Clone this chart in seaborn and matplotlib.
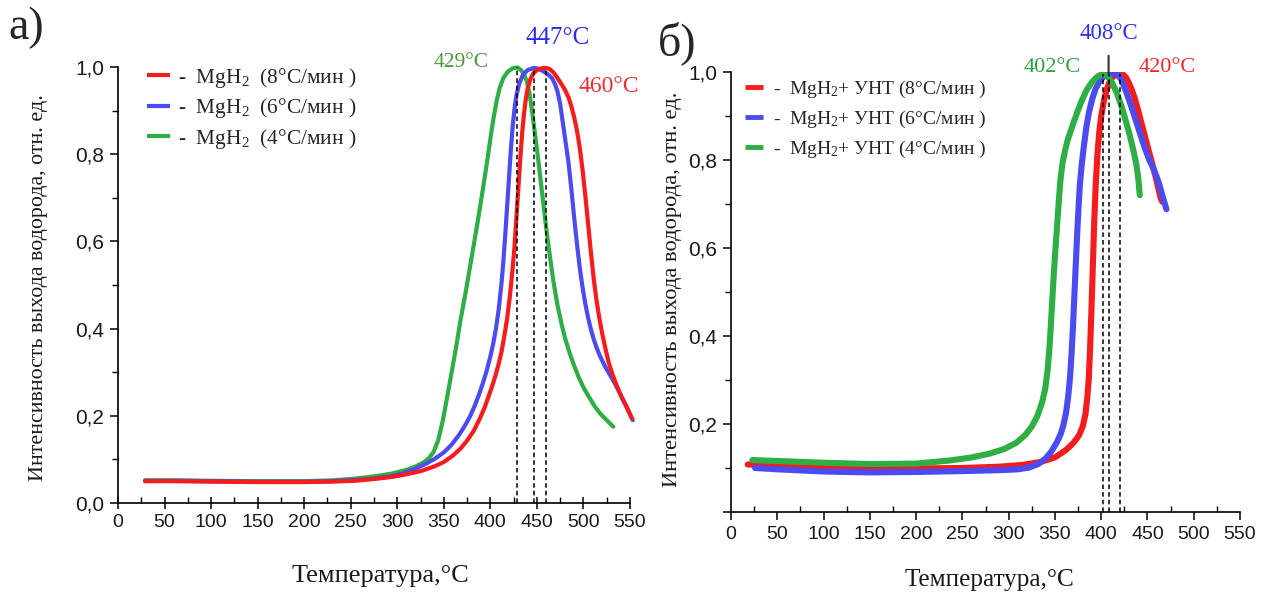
import numpy as np
import pandas as pd
import matplotlib
matplotlib.use("Agg")
import matplotlib.pyplot as plt
import seaborn as sns
from matplotlib.lines import Line2D
from matplotlib.ticker import MultipleLocator, FuncFormatter

# ---------------- Panel а: MgH2 ----------------
t_a8 = [29, 60, 100, 150, 200, 230, 255, 275, 295, 310, 325, 340, 350, 360, 368, 375, 382,
        389, 394, 399, 403, 406, 409, 412, 415, 418, 421, 424, 426, 428, 430, 432, 434, 436,
        438, 440, 443, 446, 450, 455, 460, 464, 468, 472, 476, 480, 484, 487, 490, 493, 496,
        499, 502, 505, 508, 511, 514, 517, 520, 523, 527, 531, 536, 541, 546, 552]
v_a8 = [0.050, 0.050, 0.049, 0.048, 0.048, 0.049, 0.051, 0.055, 0.060, 0.066, 0.073, 0.084,
        0.094, 0.109, 0.125, 0.143, 0.165, 0.195, 0.220, 0.250, 0.275, 0.296, 0.320, 0.347,
        0.383, 0.423, 0.475, 0.540, 0.590, 0.655, 0.720, 0.785, 0.845, 0.890, 0.925, 0.950,
        0.972, 0.985, 0.993, 0.997, 0.998, 0.995, 0.987, 0.975, 0.962, 0.948, 0.930, 0.910,
        0.885, 0.855, 0.815, 0.765, 0.705, 0.640, 0.575, 0.515, 0.465, 0.425, 0.390, 0.360,
        0.323, 0.296, 0.268, 0.243, 0.222, 0.194]

t_a6 = [29, 60, 100, 150, 200, 230, 255, 275, 290, 305, 318, 330, 340, 350, 358, 366, 372,
        378, 383, 388, 392, 396, 400, 403, 406, 409, 412, 414, 416, 418, 420, 422, 424, 426,
        428, 431, 435, 440, 447, 452, 457, 462, 466, 469, 472, 475, 478, 481, 484, 487, 490,
        493, 496, 499, 502, 505, 508, 511, 514, 517, 520, 523, 527, 531, 536, 541, 546, 553]
v_a6 = [0.051, 0.051, 0.050, 0.049, 0.049, 0.050, 0.053, 0.056, 0.060, 0.067, 0.077, 0.089,
        0.101, 0.116, 0.133, 0.155, 0.175, 0.198, 0.222, 0.250, 0.275, 0.303, 0.336, 0.365,
        0.400, 0.445, 0.505, 0.555, 0.615, 0.680, 0.745, 0.810, 0.865, 0.905, 0.935, 0.962,
        0.982, 0.993, 0.998, 0.996, 0.990, 0.983, 0.975, 0.963, 0.945, 0.915, 0.870, 0.825,
        0.780, 0.720, 0.655, 0.595, 0.540, 0.495, 0.457, 0.425, 0.398, 0.376, 0.357, 0.341,
        0.327, 0.314, 0.299, 0.285, 0.265, 0.243, 0.222, 0.190]

t_a4 = [29, 60, 100, 150, 200, 230, 255, 275, 293, 310, 320, 328, 334, 339, 344, 349, 353,
        358, 363, 368, 374, 380, 386, 392, 397, 401, 404, 407, 410, 414, 419, 424, 429, 433,
        436, 439, 442, 445, 448, 451, 454, 457, 460, 464, 468, 472, 476, 480, 485, 490, 495,
        500, 506, 512, 518, 525, 532]
v_a4 = [0.052, 0.052, 0.051, 0.050, 0.050, 0.052, 0.056, 0.061, 0.067, 0.076, 0.084, 0.093,
        0.103, 0.117, 0.144, 0.190, 0.236, 0.295, 0.355, 0.420, 0.490, 0.565, 0.640, 0.720,
        0.790, 0.850, 0.890, 0.925, 0.952, 0.975, 0.990, 0.997, 0.999, 0.993, 0.984, 0.968,
        0.940, 0.895, 0.845, 0.795, 0.740, 0.685, 0.630, 0.565, 0.505, 0.455, 0.415, 0.380,
        0.345, 0.315, 0.288, 0.265, 0.243, 0.222, 0.205, 0.190, 0.175]

peaks_a = [460, 447, 429]

# ---------------- Panel б: MgH2 + УНТ ----------------
t_b8 = [18, 40, 70, 100, 150, 200, 250, 290, 315, 335, 350, 362, 370, 376, 380, 383, 385,
        386.5, 388, 389.5, 391, 392.5, 394, 396, 398, 400, 403, 406, 409, 412, 416, 420, 424,
        427, 430, 433, 436, 440, 445, 450, 455, 460, 464, 466]
v_b8 = [0.108, 0.106, 0.104, 0.102, 0.099, 0.099, 0.100, 0.103, 0.107, 0.114, 0.124, 0.141,
        0.157, 0.174, 0.194, 0.222, 0.260, 0.300, 0.370, 0.460, 0.560, 0.660, 0.740, 0.815,
        0.865, 0.900, 0.935, 0.960, 0.977, 0.988, 0.994, 0.996, 0.994, 0.987, 0.975, 0.960,
        0.942, 0.912, 0.872, 0.832, 0.793, 0.752, 0.715, 0.705]

t_b6 = [26, 50, 100, 150, 200, 250, 290, 310, 322, 332, 340, 346, 352, 356, 359, 362, 364.5,
        366.5, 368, 369.5, 371, 372.5, 374, 375.5, 377, 379, 381.5, 384, 387, 390.5, 394, 398,
        402, 406, 410, 414, 418, 422, 427, 432, 437, 442, 447, 452, 457, 462, 466, 470.5]
v_b6 = [0.100, 0.097, 0.092, 0.090, 0.091, 0.093, 0.095, 0.097, 0.101, 0.109, 0.122, 0.137,
        0.158, 0.176, 0.196, 0.225, 0.265, 0.310, 0.360, 0.420, 0.490, 0.560, 0.630, 0.690,
        0.745, 0.790, 0.835, 0.875, 0.910, 0.940, 0.962, 0.978, 0.988, 0.994, 0.997, 0.997,
        0.994, 0.982, 0.955, 0.925, 0.893, 0.860, 0.828, 0.800, 0.778, 0.750, 0.720, 0.688]

t_b4 = [23, 50, 100, 150, 200, 236, 260, 280, 295, 308, 318, 325, 331, 336, 339.5, 342, 344,
        345.5, 347, 348.5, 350, 351.5, 353, 354.5, 356, 358, 361, 364, 368, 373, 378, 384, 390,
        396, 402, 407, 412, 417, 422, 427, 431, 435, 438, 440, 441.7]
v_b4 = [0.118, 0.116, 0.112, 0.109, 0.110, 0.117, 0.124, 0.133, 0.143, 0.157, 0.175, 0.194,
        0.218, 0.248, 0.280, 0.320, 0.370, 0.420, 0.475, 0.530, 0.580, 0.625, 0.670, 0.715,
        0.755, 0.790, 0.822, 0.847, 0.872, 0.902, 0.930, 0.958, 0.977, 0.990, 0.996, 0.990,
        0.975, 0.952, 0.922, 0.886, 0.855, 0.820, 0.790, 0.760, 0.720]

peaks_b = [420, 408, 402]

rates = ["8", "6", "4"]
line_colors = ["#f41c1c", "#4b4bf0", "#2fae45"]
label_colors_a = ["#e83030", "#2a2af0", "#4c9a3c"]
label_colors_b = ["#f02828", "#3030f0", "#2ca53c"]

labels_a = [f"-  MgH$_2$  ({r}°C/мин )" for r in rates]
labels_b = [f"-  MgH$_2$+ УНТ ({r}°C/мин )" for r in rates]


def frame(ts, vs):
    parts = []
    for r, t, v in zip(rates, ts, vs):
        parts.append(pd.DataFrame({"T": t, "I": v, "rate": r}))
    return pd.concat(parts, ignore_index=True)


df_a = frame([t_a8, t_a6, t_a4], [v_a8, v_a6, v_a4])
df_b = frame([t_b8, t_b6, t_b4], [v_b8, v_b6, v_b4])

sns.set_theme(style="ticks")
plt.rcParams["font.family"] = ["Liberation Sans", "DejaVu Sans"]
plt.rcParams["mathtext.fontset"] = "custom"
plt.rcParams["mathtext.rm"] = "Liberation Serif"
plt.rcParams["mathtext.it"] = "Liberation Serif:italic"
plt.rcParams["mathtext.bf"] = "Liberation Serif:bold"
plt.rcParams["lines.solid_capstyle"] = "round"
plt.rcParams["lines.solid_joinstyle"] = "round"
SERIF = ["Liberation Serif", "DejaVu Serif"]

fig = plt.figure(figsize=(12.7, 5.95), dpi=100)
ax_a = fig.add_axes([118 / 1270, 1 - 503 / 595, 512 / 1270, 436 / 595])
ax_b = fig.add_axes([731 / 1270, 1 - 512 / 595, 509 / 1270, 440 / 595])

palette = dict(zip(rates, line_colors))
# the 8 °C/min curve lies on top in panel а, the 4 °C/min curve on top in panel б
sns.lineplot(data=df_a, x="T", y="I", hue="rate", hue_order=rates[::-1], palette=palette,
             estimator=None, linewidth=3.0, legend=False, ax=ax_a)
sns.lineplot(data=df_b, x="T", y="I", hue="rate", hue_order=rates, palette=palette,
             estimator=None, linewidth=4.4, legend=False, ax=ax_b)
for ln in ax_a.get_lines():
    ln.set_clip_on(False)

comma = FuncFormatter(lambda v, p: f"{v:.1f}".replace(".", ","))
comma_no_zero = FuncFormatter(lambda v, p: "" if abs(v) < 1e-9 else f"{v:.1f}".replace(".", ","))

for ax in (ax_a, ax_b):
    ax.set_xlim(0, 550)
    ax.set_ylim(0, 1.0)
    ax.xaxis.set_major_locator(MultipleLocator(50))
    ax.xaxis.set_minor_locator(MultipleLocator(25))
    ax.yaxis.set_major_locator(MultipleLocator(0.2))
    ax.yaxis.set_minor_locator(MultipleLocator(0.1))
    for s in ("top", "right"):
        ax.spines[s].set_visible(False)
    for s in ("left", "bottom"):
        ax.spines[s].set_linewidth(1.2)
        ax.spines[s].set_color("black")
    ax.tick_params(axis="both", which="major", length=6, width=1.1,
                   colors="black", labelcolor="#1a1a1a", pad=4)
    ax.tick_params(axis="x", which="major", labelsize=14)
    ax.tick_params(axis="y", which="major", labelsize=15)
    ax.tick_params(axis="both", which="minor", length=4, width=1.0, colors="black")
    ax.tick_params(axis="y", which="both", direction="out")
    ax.tick_params(axis="x", which="minor", direction="in")
    ax.set_facecolor("white")

ax_a.tick_params(axis="x", which="major", direction="inout", length=8)
ax_b.tick_params(axis="x", which="major", direction="out")
ax_a.yaxis.set_major_formatter(comma)
ax_b.yaxis.set_major_formatter(comma_no_zero)

ylab = "Интенсивность выхода водорода, отн. ед."
ax_a.set_xlabel("Температура,°C", family=SERIF, fontsize=19, color="#1a1a1a")
ax_a.set_ylabel(ylab, family=SERIF, fontsize=15.8, color="#1a1a1a")
ax_b.set_xlabel("Температура,°C", family=SERIF, fontsize=18.2, color="#1a1a1a")
ax_b.set_ylabel(ylab, family=SERIF, fontsize=16.2, color="#1a1a1a")

ax_a.xaxis.set_label_coords(0.512, -0.142)
ax_a.yaxis.set_label_coords(-0.137, 0.495)
ax_b.xaxis.set_label_coords(0.508, -0.130)
ax_b.yaxis.set_label_coords(-0.096, 0.505)

# Dashed markers at the peak temperatures
for ax, ts, vs, peaks in ((ax_a, [t_a8, t_a6, t_a4], [v_a8, v_a6, v_a4], peaks_a),
                          (ax_b, [t_b8, t_b6, t_b4], [v_b8, v_b6, v_b4], peaks_b)):
    tops = [np.interp(p, t, v) for p, t, v in zip(peaks, ts, vs)]
    ax.vlines(peaks, 0, tops, colors="black", linestyles=(0, (3, 2)), linewidth=1.1, zorder=5)

# Peak labels, panel а
ax_a.text(369, 1.01, f"{peaks_a[2]}°C", color=label_colors_a[2], family=SERIF,
          fontsize=15.5, ha="center", va="center")
ax_a.text(472, 1.067, f"{peaks_a[1]}°C", color=label_colors_a[1], family=SERIF,
          fontsize=18, ha="center", va="center")
ax_a.text(527.5, 0.956, f"{peaks_a[0]}°C", color=label_colors_a[0], family=SERIF,
          fontsize=17, ha="center", va="center")

# Peak labels, panel б
ax_b.text(346.7, 1.011, f"{peaks_b[2]}°C", color=label_colors_b[2], family=SERIF,
          fontsize=16, ha="center", va="center")
ax_b.text(471, 1.011, f"{peaks_b[0]}°C", color=label_colors_b[0], family=SERIF,
          fontsize=16, ha="center", va="center")
top_b6 = np.interp(peaks_b[1], t_b6, v_b6)
ax_b.annotate(f"{peaks_b[1]}°C", xy=(peaks_b[1], top_b6), xytext=(peaks_b[1], 1.087),
              color=label_colors_b[1], family=SERIF, fontsize=16.5, ha="center", va="center",
              annotation_clip=False,
              arrowprops=dict(arrowstyle="-", color="#333333", lw=1.5, shrinkA=6, shrinkB=0))

# Legends
handles_a = [Line2D([], [], color=c, lw=3.0, solid_capstyle="butt") for c in line_colors]
ax_a.legend(handles_a, labels_a, loc="upper left", bbox_to_anchor=(0.057, 1.003),
            frameon=False, handlelength=1.07, handletextpad=0.35, labelspacing=0.30,
            borderpad=0, borderaxespad=0, prop={"family": SERIF, "size": 15.4})
handles_b = [Line2D([], [], color=c, lw=3.5, solid_capstyle="butt") for c in line_colors]
ax_b.legend(handles_b, labels_b, loc="upper left", bbox_to_anchor=(0.0275, 0.985),
            frameon=False, handlelength=0.93, handletextpad=0.5, labelspacing=0.47,
            borderpad=0, borderaxespad=0, prop={"family": SERIF, "size": 14})

# Panel letters
fig.text(26 / 1270, 1 - 28 / 595, "а)", family=SERIF, fontsize=33, ha="center", va="center")
fig.text(677 / 1270, 1 - 43 / 595, "б)", family=SERIF, fontsize=33, ha="center", va="center")

fig.savefig("out.png", dpi=100, facecolor="white")
